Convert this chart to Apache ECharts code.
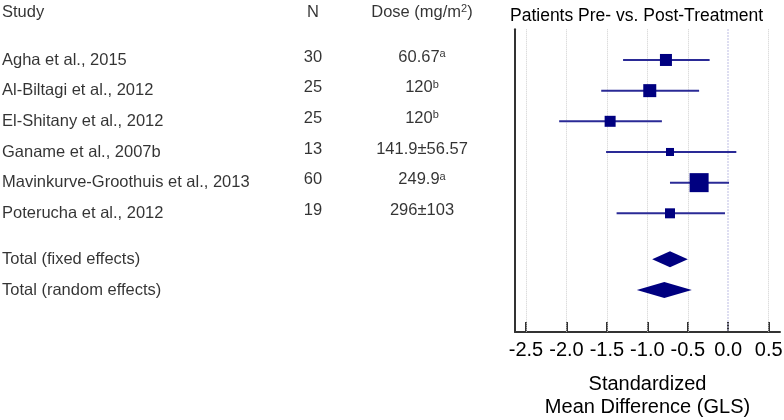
<!DOCTYPE html>
<html>
<head>
<meta charset="utf-8">
<script src="https://cdn.jsdelivr.net/npm/echarts@6.0.0/dist/echarts.min.js"></script>
<style>
  html, body { margin: 0; padding: 0; background: #fff; }
  #chart { width: 784px; height: 420px; }
</style>
</head>
<body>
<div id="chart"></div>
<script>
// study table
const studies = [
  'Agha et al., 2015',
  'Al-Biltagi et al., 2012',
  'El-Shitany et al., 2012',
  'Ganame et al., 2007b',
  'Mavinkurve-Groothuis et al., 2013',
  'Poterucha et al., 2012'
];
const nValues = [30, 25, 25, 13, 60, 19];
const doseText = ['60.67', '120', '120', '141.9±56.57', '249.9', '296±103'];
const doseNote = ['a', 'b', 'b', '', 'a', ''];

// effect sizes (standardized mean difference) and 95% CI
const estimates = [-0.77, -0.97, -1.46, -0.72, -0.36, -0.72];
const ciLow = [-1.30, -1.57, -2.09, -1.51, -0.72, -1.38];
const ciHigh = [-0.23, -0.36, -0.82, 0.10, 0.01, -0.04];
const weights = [15.0, 17.6, 12.6, 6.7, 37.6, 10.4];

// pooled
const totalNames = ['Total (fixed effects)', 'Total (random effects)'];
const totalEst = [-0.72, -0.79];
const totalLow = [-0.94, -1.13];
const totalHigh = [-0.50, -0.45];

const tickValues = [-2.5, -2.0, -1.5, -1.0, -0.5, 0.0, 0.5];

// row index on the y scale (totals sit 1.5 rows below the last study)
const studyRow = i => i + 1;
const totalRow = j => studies.length + 1.5 + j;
const headerRow = -0.56;

const chart = echarts.init(document.getElementById('chart'));

const FONT = 'Liberation Sans, Arial, sans-serif';
const INK = '#000';
const richText = {
  t: { fontSize: 16.5, fontFamily: FONT, color: INK },
  sup: { fontSize: 11, fontFamily: FONT, color: INK, verticalAlign: 'top' }
};

// columns of the table (x in pixels of the hidden table grid)
const colName = 2, colN = 313, colDose = 422;

const nameData = studies.map((s, i) => ({ value: [colName, studyRow(i)], label: { formatter: s } }))
  .concat(totalNames.map((s, j) => ({ value: [colName, totalRow(j)], label: { formatter: s } })))
  .concat([{ value: [colName, headerRow], label: { formatter: 'Study' } }]);

const nData = nValues.map((v, i) => ({ value: [colN, studyRow(i)], label: { formatter: String(v) } }))
  .concat([{ value: [colN, headerRow], label: { formatter: 'N', offset: [0, 0] } }]);

const doseData = doseText.map((d, i) => ({
  value: [colDose, studyRow(i)],
  label: { formatter: '{t|' + d + '}' + (doseNote[i] ? '{sup|' + doseNote[i] + '}' : '') }
})).concat([{ value: [colDose, headerRow], label: { formatter: '{t|Dose (mg/m}{sup|2}{t|)}', offset: [0, 0] } }]);

const studyData = estimates.map((e, i) => [e, ciLow[i], ciHigh[i], studyRow(i), weights[i]]);
const totalData = totalEst.map((e, j) => [e, totalLow[j], totalHigh[j], totalRow(j)]);

const tableLabel = { show: true, position: 'inside', verticalAlign: 'middle', fontSize: 16.5, color: INK, fontFamily: FONT };

const option = {
  animation: false,
  textStyle: { fontFamily: FONT, color: INK },
  title: {
    text: 'Patients Pre- vs. Post-Treatment',
    left: 505,
    top: 2,
    textStyle: { fontSize: 17.5, fontWeight: 'normal', color: INK, fontFamily: FONT }
  },
  grid: [
    { left: 515, right: 4, top: 29.3, bottom: 88, outerBoundsMode: 'none', containLabel: false },
    { left: 0, right: 0, top: 29.3, bottom: 88, outerBoundsMode: 'none', containLabel: false }
  ],
  xAxis: [
    {
      type: 'value',
      gridIndex: 0,
      min: -2.636,
      max: 0.64,
      axisLine: { show: true, onZero: false, lineStyle: { color: '#333', width: 2 } },
      axisTick: { show: true, inside: true, length: 10, customValues: tickValues, lineStyle: { color: '#333', width: 2 } },
      axisLabel: {
        customValues: tickValues,
        formatter: v => v.toFixed(1),
        fontSize: 20,
        color: INK,
        margin: 8,
        fontFamily: FONT
      },
      splitLine: { show: false },
      name: 'Standardized\nMean Difference (GLS)',
      nameLocation: 'middle',
      nameGap: 41,
      nameTextStyle: { fontSize: 20, lineHeight: 23, color: INK, fontFamily: FONT }
    },
    { type: 'value', gridIndex: 1, min: 0, max: 784, show: false }
  ],
  yAxis: [
    {
      type: 'value',
      gridIndex: 0,
      inverse: true,
      min: 0,
      max: 9.87,
      axisLine: { show: true, onZero: false, lineStyle: { color: '#333', width: 2 } },
      axisTick: { show: false },
      axisLabel: { show: false },
      splitLine: { show: false }
    },
    { type: 'value', gridIndex: 1, inverse: true, min: 0, max: 9.87, show: false }
  ],
  series: [
    {
      // vertical reference lines at each tick, kept behind the marks
      type: 'scatter',
      xAxisIndex: 0,
      yAxisIndex: 0,
      z: 1,
      data: [],
      silent: true,
      markLine: {
        silent: true,
        z: 1,
        symbol: 'none',
        label: { show: false },
        lineStyle: { color: '#cfcfcf', type: 'dotted', width: 1 },
        data: tickValues.map(v => v === 0
          ? { xAxis: v, lineStyle: { color: '#c4c4e6', type: 'dotted', width: 1.5 } }
          : { xAxis: v })
      }
    },
    {
      type: 'custom',
      xAxisIndex: 0,
      yAxisIndex: 0,
      z: 5,
      data: studyData,
      encode: { x: [0, 1, 2], y: 3 },
      renderItem: (params, api) => {
        const y = api.value(3);
        const c = api.coord([api.value(0), y]);
        const l = api.coord([api.value(1), y]);
        const h = api.coord([api.value(2), y]);
        const s = 3.1 * Math.sqrt(api.value(4));
        return {
          type: 'group',
          children: [
            { type: 'line', shape: { x1: l[0], y1: l[1], x2: h[0], y2: h[1] }, style: { stroke: '#2a2a96', lineWidth: 2 } },
            { type: 'rect', shape: { x: c[0] - s / 2, y: c[1] - s / 2, width: s, height: s }, style: { fill: '#000080' } }
          ]
        };
      }
    },
    {
      type: 'custom',
      xAxisIndex: 0,
      yAxisIndex: 0,
      z: 5,
      data: totalData,
      encode: { x: [0, 1, 2], y: 3 },
      renderItem: (params, api) => {
        const y = api.value(3);
        const c = api.coord([api.value(0), y]);
        const l = api.coord([api.value(1), y]);
        const h = api.coord([api.value(2), y]);
        const hh = 8;
        return {
          type: 'polygon',
          shape: { points: [[l[0], l[1]], [c[0], c[1] - hh], [h[0], h[1]], [c[0], c[1] + hh]] },
          style: { fill: '#000080' }
        };
      }
    },
    {
      type: 'scatter',
      xAxisIndex: 1,
      yAxisIndex: 1,
      symbolSize: 0,
      clip: false,
      silent: true,
      data: nameData,
      label: Object.assign({}, tableLabel, { align: 'left' })
    },
    {
      type: 'scatter',
      xAxisIndex: 1,
      yAxisIndex: 1,
      symbolSize: 0,
      clip: false,
      silent: true,
      data: nData,
      label: Object.assign({}, tableLabel, { align: 'center', offset: [0, -3] })
    },
    {
      type: 'scatter',
      xAxisIndex: 1,
      yAxisIndex: 1,
      symbolSize: 0,
      clip: false,
      silent: true,
      data: doseData,
      label: Object.assign({}, tableLabel, { align: 'center', offset: [0, -3], rich: richText })
    }
  ]
};

chart.setOption(option);
</script>
</body>
</html>
